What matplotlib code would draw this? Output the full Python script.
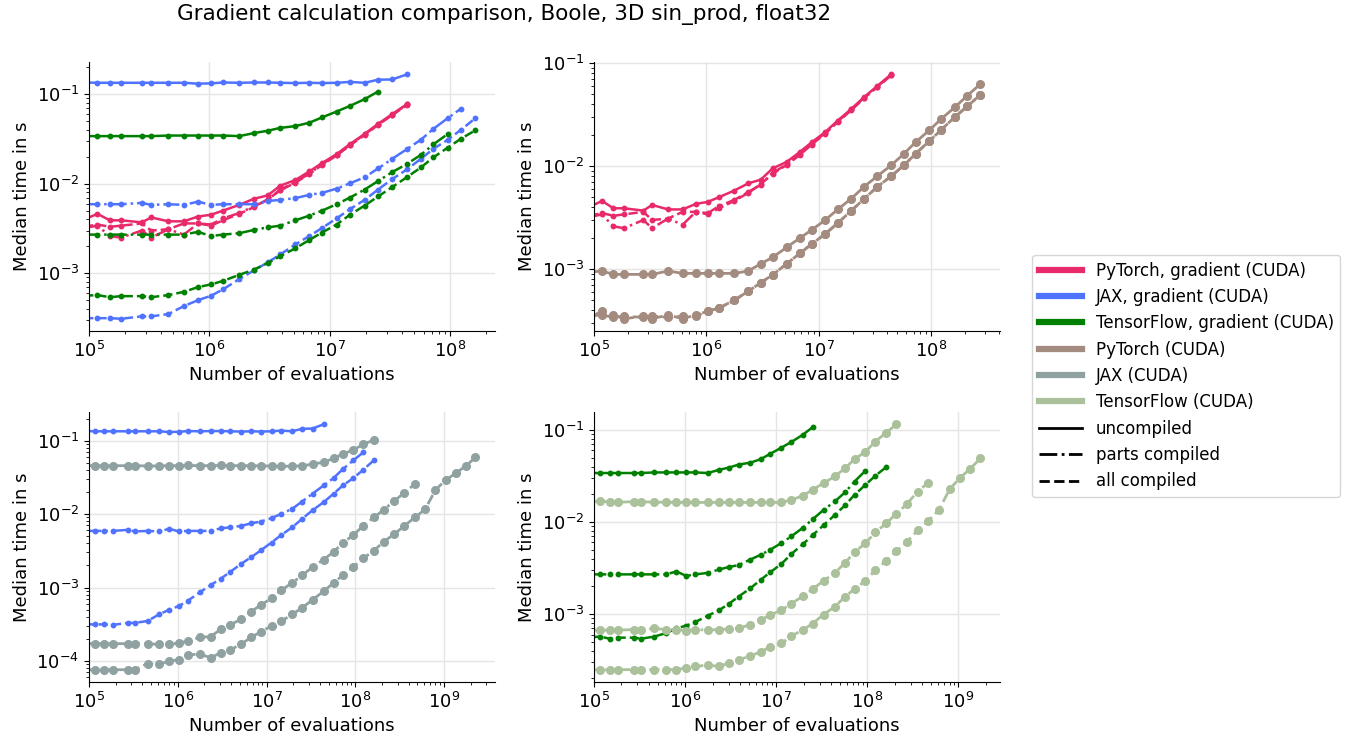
import matplotlib
matplotlib.use("Agg")
import matplotlib.pyplot as plt
from matplotlib.lines import Line2D

# number of evaluations (3D grids), shared by every series
evals = [91125, 117649, 148877, 185193, 274625, 328509, 456533, 614125,
         804357, 1030301, 1295029, 1771561, 2352637, 3048625, 3869893,
         5177717, 6751269, 8615125, 11390625, 14706125, 19465109, 25153757,
         33076161, 43986977, 57066625, 72511713, 95443993, 122763473,
         161878625, 208527857, 273359449, 356400829, 469097433, 611960049,
         801765089, 1039509197, 1349232625, 1749690125, 2263571297]

# gradient timings
pytorch_grad_uncompiled = [0.0040, 0.0046, 0.0039, 0.0039, 0.0037, 0.0042, 0.0038, 0.0038,
                           0.0043, 0.0045, 0.0050, 0.0058, 0.0068, 0.0074, 0.0095, 0.0110,
                           0.0137, 0.0170, 0.0214, 0.0277, 0.0360, 0.0466, 0.0600, 0.0780]
pytorch_grad_parts = [0.0032, 0.0034, 0.0026, 0.0025, 0.0030, 0.0025, 0.0031, 0.0027,
                      0.0036, 0.0035, 0.0041, 0.0047, 0.0056, 0.0066, 0.0086, 0.0104,
                      0.0130, 0.0165, 0.0210, 0.0272, 0.0355, 0.0460, 0.0592, 0.0770]
pytorch_grad_all = [0.0033, 0.0035, 0.0033, 0.0034, 0.0036, 0.0030, 0.0031, 0.0036,
                    0.0036, 0.0034, 0.0039, 0.0046, 0.0055, 0.0067, 0.0084, 0.0103,
                    0.0128, 0.0162, 0.0207, 0.0268, 0.0350, 0.0455, 0.0585, 0.0760]

jax_grad_uncompiled = [0.135, 0.134, 0.134, 0.134, 0.134, 0.134, 0.134, 0.134,
                       0.131, 0.132, 0.135, 0.134, 0.135, 0.135, 0.134, 0.133,
                       0.134, 0.133, 0.134, 0.137, 0.134, 0.145, 0.146, 0.167]
jax_grad_parts = [0.0059, 0.0059, 0.0059, 0.0059, 0.0061, 0.0058, 0.0059, 0.0058,
                  0.0063, 0.0058, 0.0059, 0.0059, 0.0059, 0.0064, 0.0066, 0.0069,
                  0.0075, 0.0079, 0.0088, 0.0101, 0.0118, 0.0148, 0.0190, 0.0245,
                  0.031, 0.041, 0.054, 0.069]
jax_grad_all = [3.15e-4, 3.15e-4, 3.15e-4, 3.1e-4, 3.3e-4, 3.3e-4, 3.5e-4, 4.3e-4,
                5.0e-4, 5.6e-4, 6.6e-4, 8.6e-4, 1.08e-3, 1.32e-3, 1.62e-3, 2.1e-3,
                2.6e-3, 3.2e-3, 4.1e-3, 5.2e-3, 6.6e-3, 8.6e-3, 0.0113, 0.0145,
                0.019, 0.0245, 0.031, 0.040, 0.054]

tf_grad_uncompiled = [0.034, 0.034, 0.034, 0.034, 0.034, 0.034, 0.0345, 0.0345,
                      0.0345, 0.0345, 0.0345, 0.034, 0.0368, 0.039, 0.042, 0.044,
                      0.048, 0.055, 0.064, 0.074, 0.088, 0.107]
tf_grad_parts = [0.0027, 0.0027, 0.0027, 0.0027, 0.0027, 0.0027, 0.0027, 0.0027,
                 0.0029, 0.0026, 0.0027, 0.0028, 0.00305, 0.00325, 0.0034, 0.0039,
                 0.0044, 0.0050, 0.0059, 0.0070, 0.0086, 0.0107, 0.0135, 0.0167,
                 0.021, 0.0275, 0.036]
tf_grad_all = [5.6e-4, 5.7e-4, 5.4e-4, 5.55e-4, 5.55e-4, 5.4e-4, 5.7e-4, 6.2e-4,
               7.0e-4, 7.5e-4, 8.2e-4, 9.6e-4, 1.1e-3, 1.3e-3, 1.55e-3, 1.9e-3,
               2.35e-3, 2.85e-3, 3.5e-3, 4.5e-3, 5.7e-3, 7.2e-3, 9.2e-3, 0.0119,
               0.0152, 0.0197, 0.0253, 0.0318, 0.0395]

# plain (non-gradient) timings
pytorch_uncompiled = [9.35e-4, 9.6e-4, 8.9e-4, 8.9e-4, 8.9e-4, 8.9e-4, 9.6e-4, 9.1e-4,
                      9.1e-4, 9.1e-4, 9.1e-4, 9.1e-4, 9.6e-4, 1.13e-3, 1.3e-3, 1.63e-3,
                      2.0e-3, 2.4e-3, 3.0e-3, 3.8e-3, 4.85e-3, 6.3e-3, 8.0e-3, 0.0102,
                      0.0132, 0.0171, 0.0222, 0.0288, 0.0373, 0.0483, 0.0627]
pytorch_parts = [3.4e-4, 3.9e-4, 3.6e-4, 3.3e-4, 3.5e-4, 3.3e-4, 3.6e-4, 3.3e-4,
                 3.6e-4, 3.9e-4, 4.2e-4, 5.0e-4, 6.1e-4, 7.4e-4, 8.8e-4, 1.13e-3,
                 1.42e-3, 1.75e-3, 2.2e-3, 2.8e-3, 3.7e-3, 4.8e-3, 6.3e-3, 8.0e-3,
                 0.0102, 0.0132, 0.0174, 0.0226, 0.030, 0.038, 0.0494]
pytorch_all = [3.5e-4, 3.6e-4, 3.4e-4, 3.5e-4, 3.4e-4, 3.5e-4, 3.4e-4, 3.5e-4,
               3.5e-4, 3.9e-4, 4.2e-4, 5.0e-4, 6.1e-4, 7.4e-4, 8.8e-4, 1.13e-3,
               1.42e-3, 1.75e-3, 2.2e-3, 2.8e-3, 3.7e-3, 4.8e-3, 6.3e-3, 8.0e-3,
               0.0102, 0.0132, 0.0174, 0.0226, 0.030, 0.038, 0.0494]

jax_uncompiled = [0.0456, 0.0456, 0.0456, 0.0456, 0.0456, 0.0456, 0.0452, 0.0452,
                  0.0456, 0.0456, 0.0460, 0.0456, 0.0456, 0.0460, 0.0456, 0.0456,
                  0.0456, 0.0452, 0.0452, 0.0445, 0.0452, 0.0452, 0.048, 0.0507,
                  0.0574, 0.0658, 0.0746, 0.0891, 0.102]
jax_parts = [1.72e-4, 1.72e-4, 1.72e-4, 1.72e-4, 1.72e-4, 1.72e-4, 1.72e-4, 1.68e-4,
             1.70e-4, 1.75e-4, 1.87e-4, 2.1e-4, 2.15e-4, 2.7e-4, 3.1e-4, 3.7e-4,
             4.7e-4, 5.8e-4, 7.1e-4, 9.2e-4, 1.16e-3, 1.46e-3, 1.9e-3, 2.4e-3,
             3.06e-3, 4.06e-3, 5.2e-3, 6.9e-3, 9.0e-3, 0.0114, 0.015, 0.0195, 0.0257]
jax_all = [7.6e-5, 7.6e-5, 7.6e-5, 7.6e-5, 7.6e-5, 7.6e-5, 9.2e-5, 9.0e-5,
           1.0e-4, 1.04e-4, 1.2e-4, 1.25e-4, 1.1e-4, 1.3e-4, 1.4e-4, 1.7e-4,
           2.1e-4, 2.5e-4, 3.0e-4, 3.5e-4, 4.3e-4, 5.3e-4, 6.8e-4, 8.9e-4,
           1.16e-3, 1.47e-3, 1.9e-3, 2.5e-3, 3.16e-3, 4.2e-3, 5.3e-3, 6.9e-3,
           9.0e-3, 0.0116, 0.0213, 0.029, 0.0358, 0.045, 0.059]

tf_uncompiled = [0.0164, 0.0170, 0.0164, 0.0164, 0.0166, 0.0166, 0.0164, 0.0164,
                 0.0163, 0.0163, 0.0163, 0.0163, 0.0163, 0.0163, 0.0163, 0.0163,
                 0.0163, 0.0163, 0.0163, 0.0174, 0.0192, 0.0224, 0.0264, 0.0312,
                 0.0384, 0.048, 0.058, 0.0747, 0.0935, 0.115]
tf_parts = [6.7e-4, 6.7e-4, 6.7e-4, 6.7e-4, 6.8e-4, 6.7e-4, 7.0e-4, 6.8e-4,
            6.8e-4, 6.6e-4, 6.8e-4, 6.7e-4, 6.8e-4, 6.9e-4, 7.0e-4, 7.7e-4,
            8.6e-4, 9.8e-4, 1.1e-3, 1.3e-3, 1.56e-3, 1.87e-3, 2.3e-3, 2.8e-3,
            3.6e-3, 4.7e-3, 5.9e-3, 7.7e-3, 9.7e-3, 0.0123, 0.0157, 0.0214, 0.0268]
tf_all = [2.49e-4, 2.49e-4, 2.49e-4, 2.49e-4, 2.5e-4, 2.5e-4, 2.5e-4, 2.5e-4,
          2.5e-4, 2.6e-4, 2.7e-4, 2.8e-4, 2.7e-4, 2.95e-4, 3.2e-4, 3.5e-4,
          3.9e-4, 4.4e-4, 4.8e-4, 5.8e-4, 6.7e-4, 7.9e-4, 9.9e-4, 1.2e-3,
          1.55e-3, 1.87e-3, 2.3e-3, 3.0e-3, 3.8e-3, 4.8e-3, 6.1e-3, 8.1e-3,
          0.0103, 0.0135, 0.0227, 0.030, 0.038, 0.049]

COLORS = {
    "pytorch_grad": "#e8296b",
    "jax_grad": "#4f73ff",
    "tf_grad": "#008000",
    "pytorch": "#a38b7f",
    "jax": "#8fa2a1",
    "tf": "#aac19b",
}
STYLES = {"uncompiled": "-", "parts": "-.", "all": "--"}


def plot_grad(ax, color, series):
    for style, vals in series:
        ax.plot(evals[:len(vals)], vals, linestyle=STYLES[style], color=color,
                lw=1.8, marker="o", ms=3.2)


def plot_plain(ax, color, series):
    for style, vals in series:
        ax.plot(evals[:len(vals)], vals, linestyle=STYLES[style], color=color,
                lw=2.0, marker="o", ms=5.5)


def style_axes(ax):
    ax.set_xscale("log")
    ax.set_yscale("log")
    ax.set_xlim(left=1e5)
    ax.grid(True, which="major", color="#e5e5e5", lw=1)
    ax.set_axisbelow(True)
    for side in ("top", "right"):
        ax.spines[side].set_visible(False)
    ax.tick_params(labelsize=13)
    ax.set_xlabel("Number of evaluations", fontsize=13)
    ax.set_ylabel("Median time in s", fontsize=13)


def main():
    fig = plt.figure(figsize=(13.59, 7.44), dpi=100)
    W, H = 1359, 744

    def box(l, t, r, b):
        return [l / W, 1 - b / H, (r - l) / W, (b - t) / H]

    ax_tl = fig.add_axes(box(89, 62, 495, 331))
    ax_tr = fig.add_axes(box(594, 62, 1000, 331))
    ax_bl = fig.add_axes(box(89, 412, 495, 682))
    ax_br = fig.add_axes(box(594, 412, 1000, 682))

    pt_grad = [("uncompiled", pytorch_grad_uncompiled), ("parts", pytorch_grad_parts),
               ("all", pytorch_grad_all)]
    jax_grad = [("uncompiled", jax_grad_uncompiled), ("parts", jax_grad_parts),
                ("all", jax_grad_all)]
    tf_grad = [("uncompiled", tf_grad_uncompiled), ("parts", tf_grad_parts),
               ("all", tf_grad_all)]

    # top left: all gradients
    plot_grad(ax_tl, COLORS["pytorch_grad"], pt_grad)
    plot_grad(ax_tl, COLORS["jax_grad"], jax_grad)
    plot_grad(ax_tl, COLORS["tf_grad"], tf_grad)

    # per framework: gradient vs plain integration
    plot_grad(ax_tr, COLORS["pytorch_grad"], pt_grad)
    plot_plain(ax_tr, COLORS["pytorch"], [("uncompiled", pytorch_uncompiled),
                                          ("parts", pytorch_parts), ("all", pytorch_all)])

    plot_grad(ax_bl, COLORS["jax_grad"], jax_grad)
    plot_plain(ax_bl, COLORS["jax"], [("uncompiled", jax_uncompiled),
                                      ("parts", jax_parts), ("all", jax_all)])

    plot_grad(ax_br, COLORS["tf_grad"], tf_grad)
    plot_plain(ax_br, COLORS["tf"], [("uncompiled", tf_uncompiled),
                                     ("parts", tf_parts), ("all", tf_all)])

    for ax in (ax_tl, ax_tr, ax_bl, ax_br):
        style_axes(ax)

    fig.suptitle("Gradient calculation comparison, Boole, 3D sin_prod, float32",
                 x=504 / W, y=1 - 4 / H, va="top", fontsize=15.5)

    labels = ["PyTorch, gradient (CUDA)", "JAX, gradient (CUDA)",
              "TensorFlow, gradient (CUDA)", "PyTorch (CUDA)", "JAX (CUDA)",
              "TensorFlow (CUDA)"]
    keys = ["pytorch_grad", "jax_grad", "tf_grad", "pytorch", "jax", "tf"]
    handles = [Line2D([], [], color=COLORS[k], lw=4.5) for k in keys]
    handles += [Line2D([], [], color="black", lw=2, linestyle=STYLES[s])
                for s in ("uncompiled", "parts", "all")]
    labels += ["uncompiled", "parts compiled", "all compiled"]
    fig.legend(handles, labels, loc="center left", bbox_to_anchor=(1024 / W, 1 - 376 / H),
               fontsize=12, handlelength=2.6, frameon=True)

    fig.savefig("out.png", dpi=100)


if __name__ == "__main__":
    main()
